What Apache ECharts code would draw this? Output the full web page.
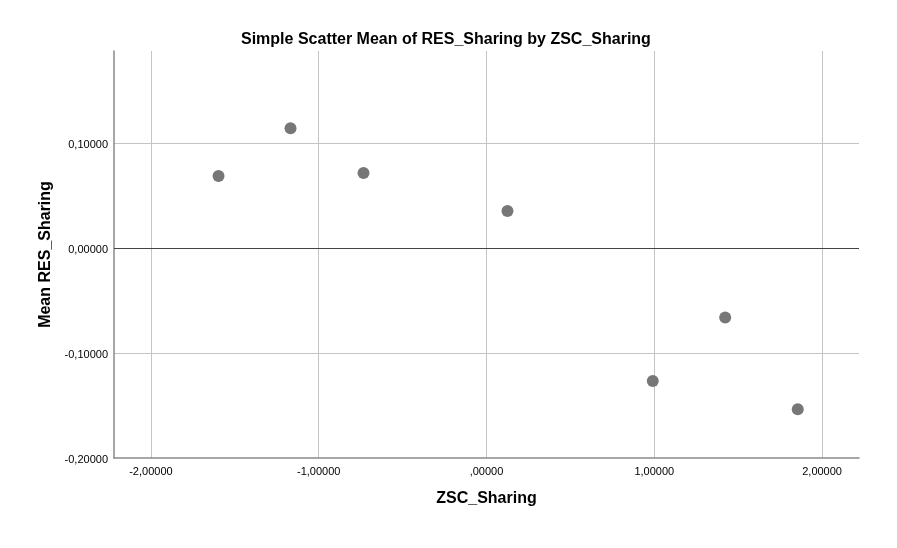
<!DOCTYPE html>
<html><head><meta charset="utf-8">
<script src="https://cdn.jsdelivr.net/npm/echarts@6/dist/echarts.min.js"></script>
<style>html,body{margin:0;padding:0;background:#fff}#c{width:897px;height:548px}</style>
</head><body><div id="c"></div>
<script>
const zscSharing = [-1.597, -1.168, -0.733, 0.125, 0.991, 1.4225, 1.855];
const meanResSharing = [0.0691, 0.1146, 0.0719, 0.0356, -0.1265, -0.0659, -0.1535];
const titleText = 'Simple Scatter Mean of RES_Sharing by ZSC_Sharing';
const xName = 'ZSC_Sharing';
const yName = 'Mean RES_Sharing';

function fmt(v, zeroLead) {
  const r = Math.round(v * 100000) / 100000;
  let s = Math.abs(r).toFixed(5).replace('.', ',');
  if (!zeroLead && Math.abs(r) < 1) s = s.replace(/^0/, '');
  if (r === 0 && zeroLead) s = '0,00000';
  return (r < 0 ? '-' : '') + s;
}

const chart = echarts.init(document.getElementById('c'), null, {renderer: 'canvas'});
const font = '"Liberation Sans", Arial, sans-serif';
chart.setOption({
  animation: false,
  backgroundColor: '#ffffff',
  title: {
    text: titleText, left: 236, top: 27,
    textStyle: {fontFamily: font, fontSize: 16, fontWeight: 'bold', color: '#000'}
  },
  grid: {left: 114, right: 38, top: 51, bottom: 90, containLabel: false},
  xAxis: {
    type: 'value', min: -2.22, max: 2.22,
    name: xName, nameLocation: 'middle', nameGap: 33,
    nameTextStyle: {fontFamily: font, fontSize: 16, fontWeight: 'bold', color: '#000'},
    axisLine: {show: true, onZero: false, lineStyle: {color: '#8a8a8a', width: 1.5}},
    axisTick: {show: false},
    axisLabel: {showMinLabel: false, showMaxLabel: false, margin: 8, fontFamily: font, fontSize: 11, color: '#000',
      formatter: v => fmt(v, false)},
    splitLine: {show: true, showMinLine: false, showMaxLine: false, lineStyle: {color: '#c4c4c4', width: 1}}
  },
  yAxis: {
    type: 'value', min: -0.2, max: 0.1884, interval: 0.1,
    name: yName, nameLocation: 'middle', nameGap: 60, nameRotate: 90,
    nameTextStyle: {fontFamily: font, fontSize: 16, fontWeight: 'bold', color: '#000'},
    axisLine: {show: true, onZero: false, lineStyle: {color: '#8a8a8a', width: 1.5}},
    axisTick: {show: false},
    axisLabel: {showMaxLabel: false, margin: 6, fontFamily: font, fontSize: 11, color: '#000',
      verticalAlign: 'top', padding: [-4, 0, 0, 0],
      formatter: v => fmt(v, true)},
    splitLine: {show: true, showMinLine: false, showMaxLine: false, lineStyle: {color: '#c4c4c4', width: 1}}
  },
  series: [{
    type: 'scatter',
    data: zscSharing.map((x, i) => [x, meanResSharing[i]]),
    symbol: 'circle', symbolSize: 12,
    itemStyle: {color: '#777777', opacity: 1},
    markLine: {
      silent: true, symbol: 'none', label: {show: false},
      lineStyle: {color: '#444444', width: 1.2, type: 'solid'},
      data: [{yAxis: 0}]
    },
    z: 5
  }]
});
</script></body></html>
